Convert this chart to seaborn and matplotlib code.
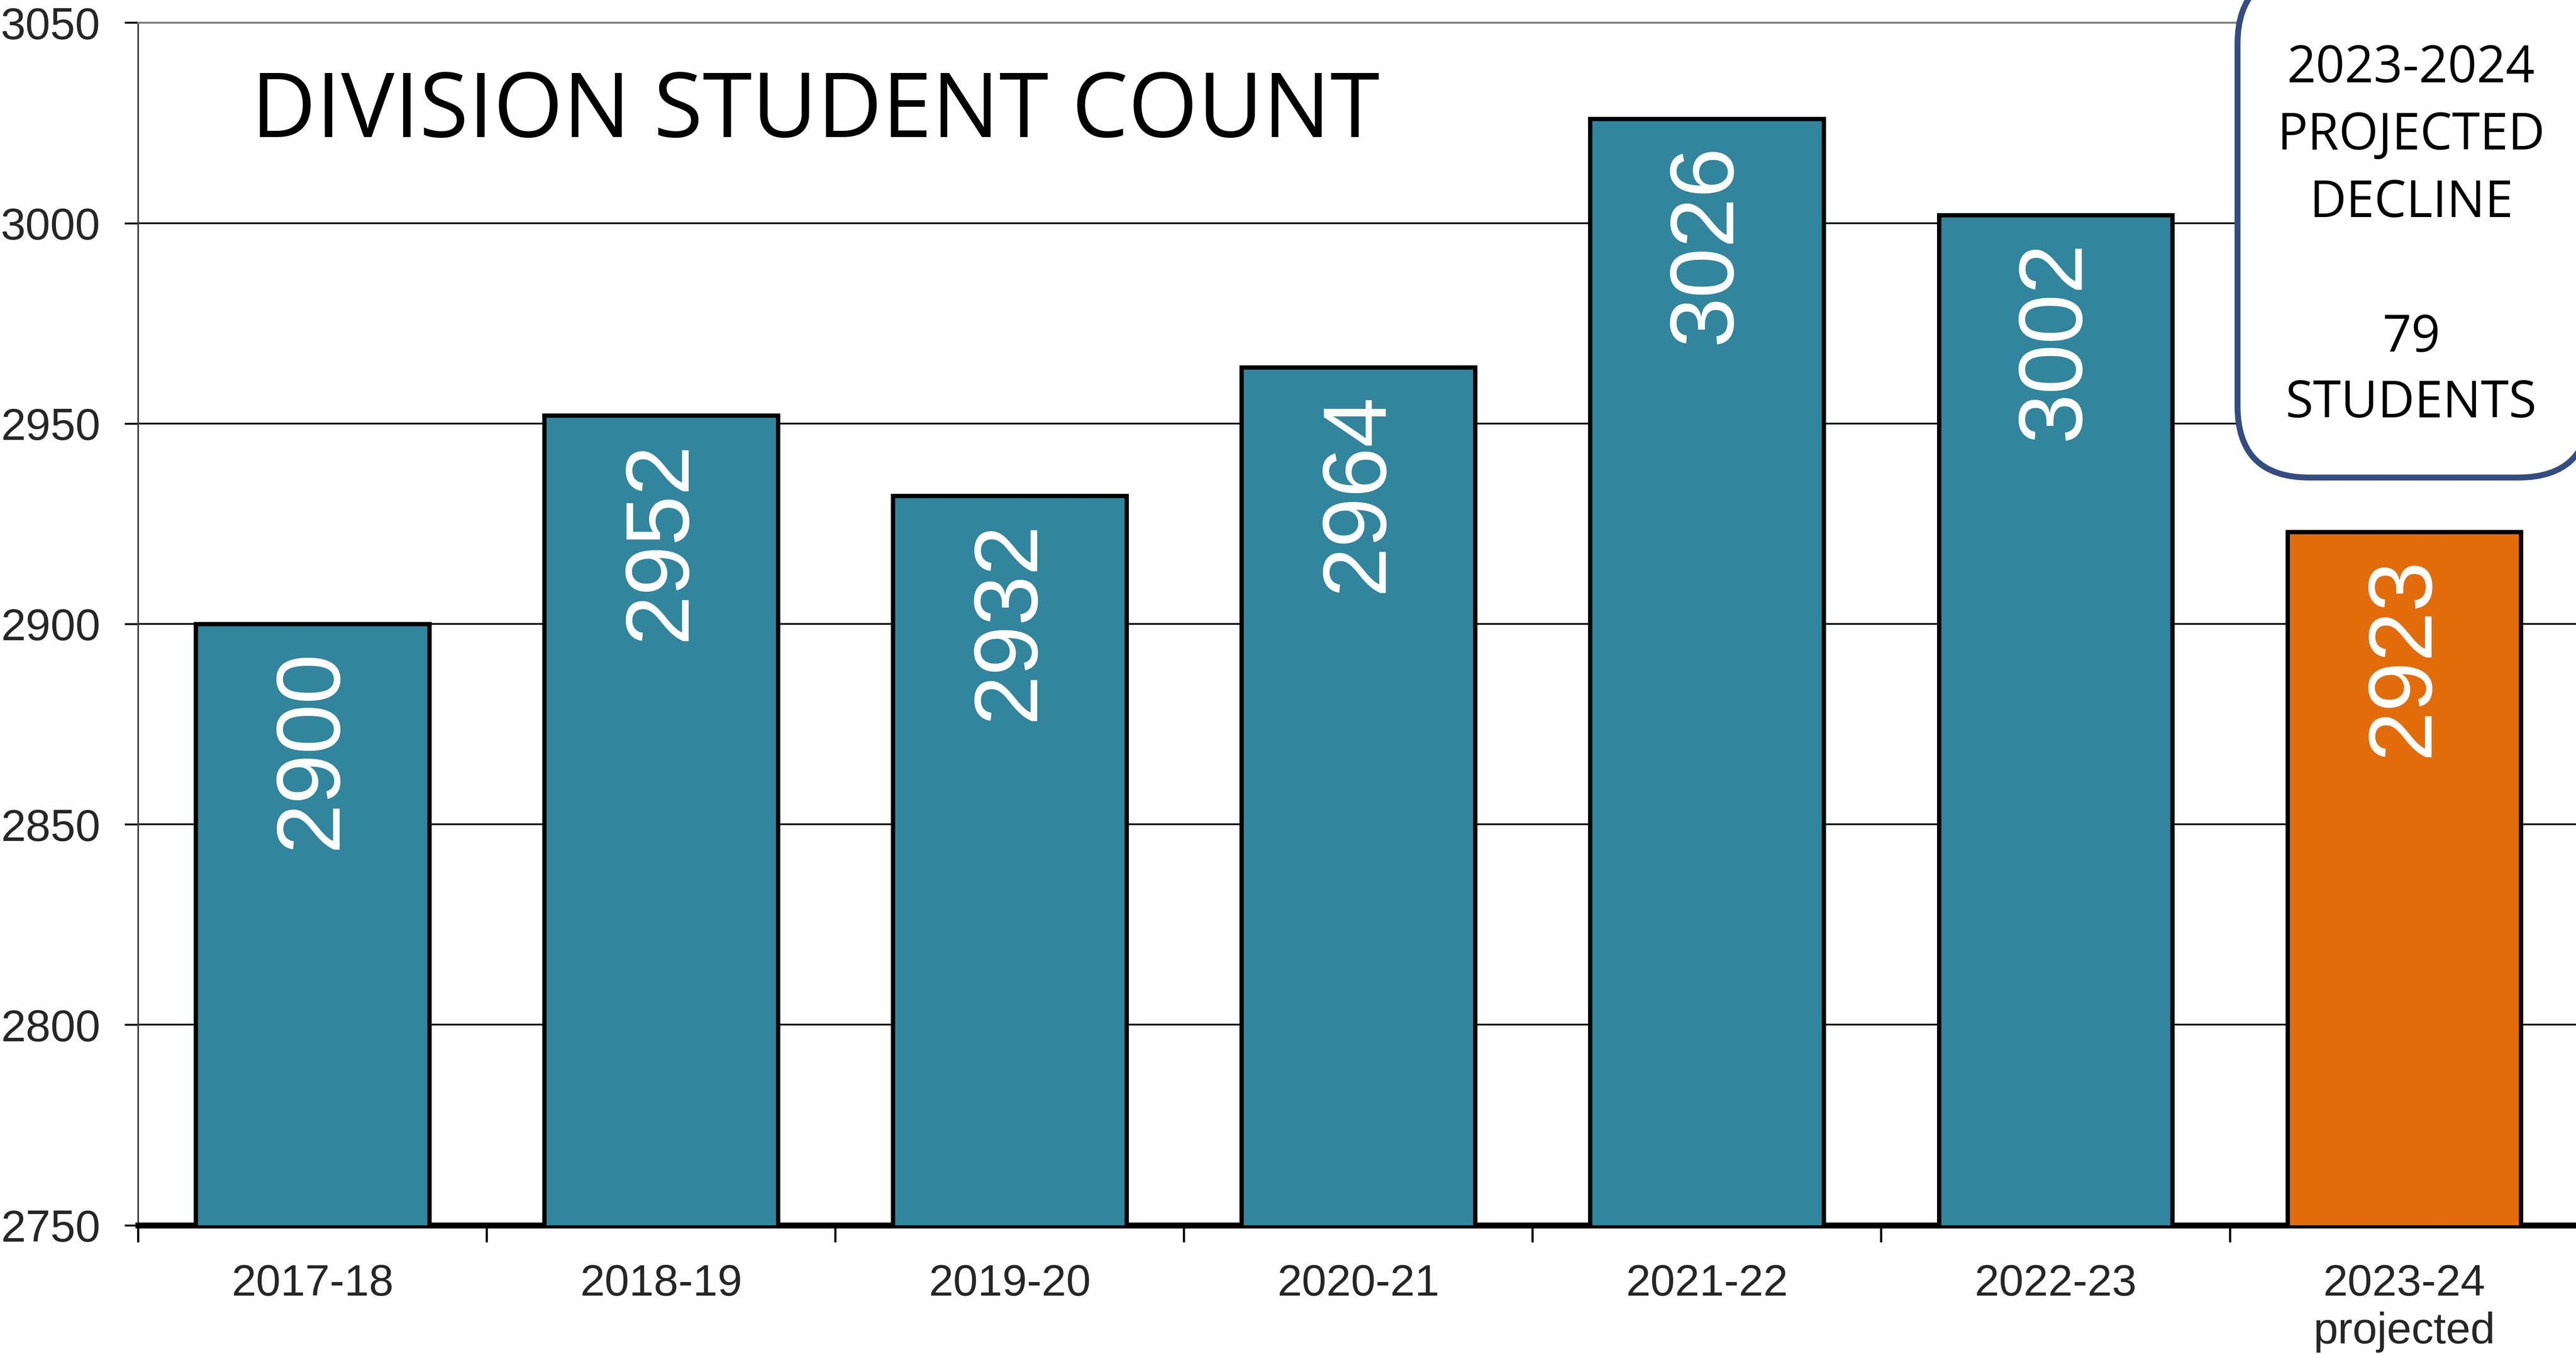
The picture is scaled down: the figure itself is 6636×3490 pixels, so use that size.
import matplotlib
matplotlib.use("Agg")
import matplotlib.pyplot as plt
from matplotlib.patches import FancyBboxPatch
from matplotlib.transforms import IdentityTransform
import seaborn as sns
import pandas as pd

# ---- data ----
categories = ["2017-18", "2018-19", "2019-20", "2020-21", "2021-22", "2022-23", "2023-24\nprojected"]
students = [2900, 2952, 2932, 2964, 3026, 3002, 2923]
bar_colors = ["#31859C", "#31859C", "#31859C", "#31859C", "#31859C", "#31859C", "#E36C0A"]
y_ticks = [2750, 2800, 2850, 2900, 2950, 3000, 3050]
title_text = "DIVISION STUDENT COUNT"
box_lines = ["2023-2024", "PROJECTED", "DECLINE", "79", "STUDENTS"]

sns.set_style("white")
plt.rcParams["font.family"] = ["Liberation Sans", "DejaVu Sans"]

W, H = 6636, 3491
fig = plt.figure(figsize=(W / 100, H / 100), dpi=100)
ax = fig.add_axes([0.0536, 0.0958, 1.001 - 0.0536, 0.983 - 0.0958])

df = pd.DataFrame({"year": categories, "students": students})
sns.barplot(data=df, x="year", y="students", hue="year", palette=bar_colors,
            legend=False, width=0.67, edgecolor="black", linewidth=8,
            saturation=1, ax=ax, zorder=3)

ax.set_xlim(-0.5, 6.5)
ax.set_ylim(2750, 3050)
ax.set_xlabel("")
ax.set_ylabel("")

# grid
ax.set_yticks(y_ticks)
ax.yaxis.grid(True, color="black", linewidth=3.2, zorder=0)
ax.xaxis.grid(False)
ax.set_axisbelow(True)

# spines
ax.spines["top"].set_color("#808080")
ax.spines["top"].set_linewidth(3.5)
ax.spines["left"].set_color("#404040")
ax.spines["left"].set_linewidth(3)
ax.spines["right"].set_visible(False)
ax.spines["bottom"].set_color("black")
ax.spines["bottom"].set_linewidth(11)

# ticks
ax.tick_params(axis="y", which="major", length=25, width=3.5, color="black",
               direction="out", pad=45, labelsize=83, left=True)
ax.set_xticks(range(len(categories)))
ax.set_xticklabels(categories, linespacing=1.2)
ax.set_xticks([i - 0.5 for i in range(len(categories) + 1)], minor=True)
ax.tick_params(axis="x", which="major", length=0, pad=71, labelsize=82, bottom=True)
ax.tick_params(axis="x", which="minor", length=32, width=4, color="black",
               direction="out", bottom=True)
for lbl in ax.get_xticklabels():
    lbl.set_verticalalignment("top")

# value labels inside the bars
for i, v in enumerate(students):
    ax.annotate(str(v), xy=(i, v), xytext=(0, -46), textcoords="offset points",
                rotation=90, ha="center", va="top", color="white",
                fontsize=167, zorder=5)

# title
fig.text(0.0975, 0.899, title_text, fontsize=166, color="black",
         family=["Open Sans", "DejaVu Sans"], ha="left", va="baseline")

# call-out box (top and right edges run off the figure)
box = FancyBboxPatch((5764, 2260), 6672 - 5764, 3561 - 2260,
                     boxstyle="round,pad=0,rounding_size=185",
                     transform=IdentityTransform(), facecolor="white",
                     edgecolor="#334D80", linewidth=11, zorder=20)
fig.add_artist(box)
baselines = [50, 91, 132, 214, 254]
for txt, b in zip(box_lines, baselines):
    fig.text(0.936, 1 - b / 825, txt, fontsize=94, color="black",
             family=["Open Sans", "DejaVu Sans"], ha="center", va="baseline",
             zorder=25)

fig.savefig("out.png", dpi=100, facecolor="white")
